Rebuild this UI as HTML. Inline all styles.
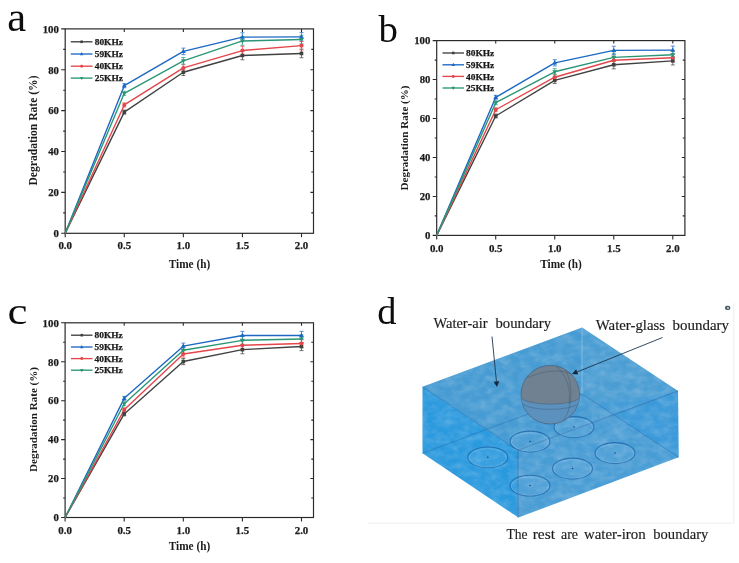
<!DOCTYPE html>
<html><head><meta charset="utf-8"><title>figure</title>
<style>
html,body{margin:0;padding:0;background:#fff;}
body{width:739px;height:563px;overflow:hidden;}
svg{display:block;}
text{font-family:"Liberation Serif",serif;}
.b{font-weight:bold;fill:#1a1a1a;}
</style></head><body>
<svg width="739" height="563" viewBox="0 0 739 563">
<rect width="739" height="563" fill="#fff"/>
<defs>
<filter id="soft" x="-2%" y="-2%" width="104%" height="104%"><feGaussianBlur stdDeviation="0.35"/></filter>
<filter id="tex" x="0" y="0" width="100%" height="100%"><feTurbulence type="fractalNoise" baseFrequency="0.11 0.17" numOctaves="3" seed="7" result="n"/><feColorMatrix in="n" type="matrix" values="0 0 0 0 1  0 0 0 0 1  0 0 0 0 1  1.6 0 0 0 -0.62" result="w"/><feComposite in="w" in2="SourceGraphic" operator="in"/></filter>
<filter id="tex2" x="0" y="0" width="100%" height="100%"><feTurbulence type="fractalNoise" baseFrequency="0.07 0.11" numOctaves="2" seed="23" result="n"/><feColorMatrix in="n" type="matrix" values="0 0 0 0 1  0 0 0 0 1  0 0 0 0 1  0 1.8 0 0 -0.75" result="w"/><feComposite in="w" in2="SourceGraphic" operator="in"/></filter>
<clipPath id="sphclip"><circle cx="550.3" cy="394.7" r="29.3"/></clipPath>
<clipPath id="boxclip"><polygon points="422.5,386.8 582,327.6 678,391 678.6,457.3 518.3,517.6 422.5,453.2"/></clipPath>
</defs>
<g id="panel-a" filter="url(#soft)">
<text transform="translate(7.3 31.2) scale(1.0 1)" font-size="42.5" fill="#111">a</text>
<rect x="65.2" y="28.9" width="248.3" height="204.4" fill="none" stroke="#2a2a2a" stroke-width="1.2"/>
<path d="M65.2 233.3h-4 M65.2 212.86h-2 M313.5 212.86h-2.2 M65.2 192.42h-4 M313.5 192.42h-3.1 M65.2 171.98h-2 M313.5 171.98h-2.2 M65.2 151.54h-4 M313.5 151.54h-3.1 M65.2 131.1h-2 M313.5 131.1h-2.2 M65.2 110.66h-4 M313.5 110.66h-3.1 M65.2 90.22h-2 M313.5 90.22h-2.2 M65.2 69.78h-4 M313.5 69.78h-3.1 M65.2 49.34h-2 M313.5 49.34h-2.2 M65.2 28.9h-4 M65.2 233.3v4.0 M124.28 233.3v4.0 M124.28 28.9v3.0 M183.35 233.3v4.0 M183.35 28.9v3.0 M242.43 233.3v4.0 M242.43 28.9v3.0 M301.5 233.3v4.0 M301.5 28.9v3.0" stroke="#2a2a2a" stroke-width="1.1" fill="none"/>
<text class="b" x="58.9" y="237.1" font-size="11.3" stroke="#1a1a1a" stroke-width="0.25" text-anchor="end" textLength="5.4" lengthAdjust="spacingAndGlyphs">0</text>
<text class="b" x="58.9" y="196.22" font-size="11.3" stroke="#1a1a1a" stroke-width="0.25" text-anchor="end" textLength="10.7" lengthAdjust="spacingAndGlyphs">20</text>
<text class="b" x="58.9" y="155.34" font-size="11.3" stroke="#1a1a1a" stroke-width="0.25" text-anchor="end" textLength="10.7" lengthAdjust="spacingAndGlyphs">40</text>
<text class="b" x="58.9" y="114.46" font-size="11.3" stroke="#1a1a1a" stroke-width="0.25" text-anchor="end" textLength="10.7" lengthAdjust="spacingAndGlyphs">60</text>
<text class="b" x="58.9" y="73.58" font-size="11.3" stroke="#1a1a1a" stroke-width="0.25" text-anchor="end" textLength="10.7" lengthAdjust="spacingAndGlyphs">80</text>
<text class="b" x="58.9" y="32.7" font-size="11.3" stroke="#1a1a1a" stroke-width="0.25" text-anchor="end" textLength="16.2" lengthAdjust="spacingAndGlyphs">100</text>
<text class="b" x="65.2" y="249.4" font-size="11.3" stroke="#1a1a1a" stroke-width="0.25" text-anchor="middle" textLength="13.6" lengthAdjust="spacingAndGlyphs">0.0</text>
<text class="b" x="124.28" y="249.4" font-size="11.3" stroke="#1a1a1a" stroke-width="0.25" text-anchor="middle" textLength="13.6" lengthAdjust="spacingAndGlyphs">0.5</text>
<text class="b" x="183.35" y="249.4" font-size="11.3" stroke="#1a1a1a" stroke-width="0.25" text-anchor="middle" textLength="13.6" lengthAdjust="spacingAndGlyphs">1.0</text>
<text class="b" x="242.43" y="249.4" font-size="11.3" stroke="#1a1a1a" stroke-width="0.25" text-anchor="middle" textLength="13.6" lengthAdjust="spacingAndGlyphs">1.5</text>
<text class="b" x="301.5" y="249.4" font-size="11.3" stroke="#1a1a1a" stroke-width="0.25" text-anchor="middle" textLength="13.6" lengthAdjust="spacingAndGlyphs">2.0</text>
<text class="b" transform="translate(36.6 130.5) rotate(-90)" font-size="11.5" text-anchor="middle" textLength="110" lengthAdjust="spacingAndGlyphs">Degradation Rate (%)</text>
<text class="b" x="189.5" y="268.2" font-size="11.5" text-anchor="middle" textLength="41.5" lengthAdjust="spacingAndGlyphs">Time (h)</text>
<path d="M124.28 110.05V114.13 M122.28 110.05h4 M122.28 114.13h4 M183.35 68.96V75.5 M181.35 68.96h4 M181.35 75.5h4 M242.43 51.18V59.76 M240.43 51.18h4 M240.43 59.76h4 M301.5 49.14V57.72 M299.5 49.14h4 M299.5 57.72h4" stroke="#404240" stroke-width="0.8" fill="none" opacity="0.9"/>
<polyline points="65.2,233.3 124.28,112.09 183.35,72.23 242.43,55.47 301.5,53.43" fill="none" stroke="#404240" stroke-width="1.4" stroke-linejoin="round"/>
<path d="M124.28 83.68V87.77 M122.28 83.68h4 M122.28 87.77h4 M183.35 48.11V54.65 M181.35 48.11h4 M181.35 54.65h4 M242.43 32.78V41.37 M240.43 32.78h4 M240.43 41.37h4 M301.5 32.58V41.16 M299.5 32.58h4 M299.5 41.16h4" stroke="#1c68c2" stroke-width="0.8" fill="none" opacity="0.9"/>
<polyline points="65.2,233.3 124.28,85.72 183.35,51.38 242.43,37.08 301.5,36.87" fill="none" stroke="#1c68c2" stroke-width="1.4" stroke-linejoin="round"/>
<path d="M124.28 102.89V106.98 M122.28 102.89h4 M122.28 106.98h4 M183.35 64.67V71.21 M181.35 64.67h4 M181.35 71.21h4 M242.43 46.27V54.86 M240.43 46.27h4 M240.43 54.86h4 M301.5 41.37V49.95 M299.5 41.37h4 M299.5 49.95h4" stroke="#e4464b" stroke-width="0.8" fill="none" opacity="0.9"/>
<polyline points="65.2,233.3 124.28,104.94 183.35,67.94 242.43,50.57 301.5,45.66" fill="none" stroke="#e4464b" stroke-width="1.4" stroke-linejoin="round"/>
<path d="M124.28 91.24V95.33 M122.28 91.24h4 M122.28 95.33h4 M183.35 57.52V64.06 M181.35 57.52h4 M181.35 64.06h4 M242.43 36.67V45.25 M240.43 36.67h4 M240.43 45.25h4 M301.5 35.24V43.82 M299.5 35.24h4 M299.5 43.82h4" stroke="#2a9676" stroke-width="0.8" fill="none" opacity="0.9"/>
<polyline points="65.2,233.3 124.28,93.29 183.35,60.79 242.43,40.96 301.5,39.53" fill="none" stroke="#2a9676" stroke-width="1.4" stroke-linejoin="round"/>
<!--markers-->
<rect x="122.48" y="110.29" width="3.6" height="3.6" fill="#404240"/><rect x="181.55" y="70.43" width="3.6" height="3.6" fill="#404240"/><rect x="240.62" y="53.67" width="3.6" height="3.6" fill="#404240"/><rect x="299.7" y="51.63" width="3.6" height="3.6" fill="#404240"/>
<polygon points="124.28,83.02 121.88,87.32 126.68,87.32" fill="#1c68c2"/><polygon points="183.35,48.68 180.95,52.98 185.75,52.98" fill="#1c68c2"/><polygon points="242.43,34.38 240.03,38.68 244.83,38.68" fill="#1c68c2"/><polygon points="301.5,34.17 299.1,38.47 303.9,38.47" fill="#1c68c2"/>
<circle cx="124.28" cy="104.94" r="2.05" fill="#e4464b"/><circle cx="183.35" cy="67.94" r="2.05" fill="#e4464b"/><circle cx="242.43" cy="50.57" r="2.05" fill="#e4464b"/><circle cx="301.5" cy="45.66" r="2.05" fill="#e4464b"/>
<polygon points="124.28,95.99 121.88,91.69 126.68,91.69" fill="#2a9676"/><polygon points="183.35,63.49 180.95,59.19 185.75,59.19" fill="#2a9676"/><polygon points="242.43,43.66 240.03,39.36 244.83,39.36" fill="#2a9676"/><polygon points="301.5,42.23 299.1,37.93 303.9,37.93" fill="#2a9676"/>
<path d="M70.8 41.8H92.5" stroke="#404240" stroke-width="1.35"/><rect x="80.35" y="40.5" width="2.59" height="2.59" fill="#404240"/><text class="b" x="94.7" y="44.9" font-size="8.9" stroke="#1a1a1a" stroke-width="0.25" textLength="28.2" lengthAdjust="spacingAndGlyphs">80KHz</text>
<path d="M70.8 54H92.5" stroke="#1c68c2" stroke-width="1.35"/><polygon points="81.65,52.06 79.92,55.15 83.38,55.15" fill="#1c68c2"/><text class="b" x="94.7" y="57.1" font-size="8.9" stroke="#1a1a1a" stroke-width="0.25" textLength="28.2" lengthAdjust="spacingAndGlyphs">59KHz</text>
<path d="M70.8 66.2H92.5" stroke="#e4464b" stroke-width="1.35"/><circle cx="81.65" cy="66.2" r="1.48" fill="#e4464b"/><text class="b" x="94.7" y="69.3" font-size="8.9" stroke="#1a1a1a" stroke-width="0.25" textLength="28.2" lengthAdjust="spacingAndGlyphs">40KHz</text>
<path d="M70.8 78.1H92.5" stroke="#2a9676" stroke-width="1.35"/><polygon points="81.65,80.04 79.92,76.95 83.38,76.95" fill="#2a9676"/><text class="b" x="94.7" y="81.2" font-size="8.9" stroke="#1a1a1a" stroke-width="0.25" textLength="28.2" lengthAdjust="spacingAndGlyphs">25KHz</text>
</g>
<g id="panel-b" filter="url(#soft)">
<text transform="translate(378.5 42) scale(1.0 1)" font-size="38.8" fill="#111">b</text>
<rect x="436.7" y="40.6" width="248.2" height="194.8" fill="none" stroke="#2a2a2a" stroke-width="1.2"/>
<path d="M436.7 235.4h-4 M436.7 215.92h-2 M684.9 215.92h-2.2 M436.7 196.44h-4 M684.9 196.44h-3.1 M436.7 176.96h-2 M684.9 176.96h-2.2 M436.7 157.48h-4 M684.9 157.48h-3.1 M436.7 138h-2 M684.9 138h-2.2 M436.7 118.52h-4 M684.9 118.52h-3.1 M436.7 99.04h-2 M684.9 99.04h-2.2 M436.7 79.56h-4 M684.9 79.56h-3.1 M436.7 60.08h-2 M684.9 60.08h-2.2 M436.7 40.6h-4 M436.7 235.4v4.0 M495.72 235.4v4.0 M495.72 40.6v3.0 M554.75 235.4v4.0 M554.75 40.6v3.0 M613.77 235.4v4.0 M613.77 40.6v3.0 M672.8 235.4v4.0 M672.8 40.6v3.0" stroke="#2a2a2a" stroke-width="1.1" fill="none"/>
<text class="b" x="430.4" y="239.2" font-size="11.3" stroke="#1a1a1a" stroke-width="0.25" text-anchor="end" textLength="5.4" lengthAdjust="spacingAndGlyphs">0</text>
<text class="b" x="430.4" y="200.24" font-size="11.3" stroke="#1a1a1a" stroke-width="0.25" text-anchor="end" textLength="10.7" lengthAdjust="spacingAndGlyphs">20</text>
<text class="b" x="430.4" y="161.28" font-size="11.3" stroke="#1a1a1a" stroke-width="0.25" text-anchor="end" textLength="10.7" lengthAdjust="spacingAndGlyphs">40</text>
<text class="b" x="430.4" y="122.32" font-size="11.3" stroke="#1a1a1a" stroke-width="0.25" text-anchor="end" textLength="10.7" lengthAdjust="spacingAndGlyphs">60</text>
<text class="b" x="430.4" y="83.36" font-size="11.3" stroke="#1a1a1a" stroke-width="0.25" text-anchor="end" textLength="10.7" lengthAdjust="spacingAndGlyphs">80</text>
<text class="b" x="430.4" y="44.4" font-size="11.3" stroke="#1a1a1a" stroke-width="0.25" text-anchor="end" textLength="16.2" lengthAdjust="spacingAndGlyphs">100</text>
<text class="b" x="436.7" y="251.5" font-size="11.3" stroke="#1a1a1a" stroke-width="0.25" text-anchor="middle" textLength="13.6" lengthAdjust="spacingAndGlyphs">0.0</text>
<text class="b" x="495.72" y="251.5" font-size="11.3" stroke="#1a1a1a" stroke-width="0.25" text-anchor="middle" textLength="13.6" lengthAdjust="spacingAndGlyphs">0.5</text>
<text class="b" x="554.75" y="251.5" font-size="11.3" stroke="#1a1a1a" stroke-width="0.25" text-anchor="middle" textLength="13.6" lengthAdjust="spacingAndGlyphs">1.0</text>
<text class="b" x="613.77" y="251.5" font-size="11.3" stroke="#1a1a1a" stroke-width="0.25" text-anchor="middle" textLength="13.6" lengthAdjust="spacingAndGlyphs">1.5</text>
<text class="b" x="672.8" y="251.5" font-size="11.3" stroke="#1a1a1a" stroke-width="0.25" text-anchor="middle" textLength="13.6" lengthAdjust="spacingAndGlyphs">2.0</text>
<text class="b" transform="translate(407.6 138) rotate(-90)" font-size="11" text-anchor="middle" textLength="105" lengthAdjust="spacingAndGlyphs">Degradation Rate (%)</text>
<text class="b" x="561" y="268.2" font-size="11.5" text-anchor="middle" textLength="41.5" lengthAdjust="spacingAndGlyphs">Time (h)</text>
<path d="M495.72 114.04V117.94 M493.72 114.04h4 M493.72 117.94h4 M554.75 77.22V83.46 M552.75 77.22h4 M552.75 83.46h4 M613.77 60.66V68.85 M611.77 60.66h4 M611.77 68.85h4 M672.8 56.77V64.95 M670.8 56.77h4 M670.8 64.95h4" stroke="#404240" stroke-width="0.8" fill="none" opacity="0.9"/>
<polyline points="436.7,235.4 495.72,115.99 554.75,80.34 613.77,64.76 672.8,60.86" fill="none" stroke="#404240" stroke-width="1.4" stroke-linejoin="round"/>
<path d="M495.72 95.34V99.23 M493.72 95.34h4 M493.72 99.23h4 M554.75 59.69V65.92 M552.75 59.69h4 M552.75 65.92h4 M613.77 46.25V54.43 M611.77 46.25h4 M611.77 54.43h4 M672.8 46.05V54.24 M670.8 46.05h4 M670.8 54.24h4" stroke="#1c68c2" stroke-width="0.8" fill="none" opacity="0.9"/>
<polyline points="436.7,235.4 495.72,97.29 554.75,62.81 613.77,50.34 672.8,50.15" fill="none" stroke="#1c68c2" stroke-width="1.4" stroke-linejoin="round"/>
<path d="M495.72 107.81V111.7 M493.72 107.81h4 M493.72 111.7h4 M554.75 74.11V80.34 M552.75 74.11h4 M552.75 80.34h4 M613.77 56.18V64.37 M611.77 56.18h4 M611.77 64.37h4 M672.8 53.65V61.83 M670.8 53.65h4 M670.8 61.83h4" stroke="#e4464b" stroke-width="0.8" fill="none" opacity="0.9"/>
<polyline points="436.7,235.4 495.72,109.75 554.75,77.22 613.77,60.27 672.8,57.74" fill="none" stroke="#e4464b" stroke-width="1.4" stroke-linejoin="round"/>
<path d="M495.72 100.79V104.69 M493.72 100.79h4 M493.72 104.69h4 M554.75 68.65V74.88 M552.75 68.65h4 M552.75 74.88h4 M613.77 53.26V61.44 M611.77 53.26h4 M611.77 61.44h4 M672.8 50.73V58.91 M670.8 50.73h4 M670.8 58.91h4" stroke="#2a9676" stroke-width="0.8" fill="none" opacity="0.9"/>
<polyline points="436.7,235.4 495.72,102.74 554.75,71.77 613.77,57.35 672.8,54.82" fill="none" stroke="#2a9676" stroke-width="1.4" stroke-linejoin="round"/>
<!--markers-->
<rect x="493.92" y="114.19" width="3.6" height="3.6" fill="#404240"/><rect x="552.95" y="78.54" width="3.6" height="3.6" fill="#404240"/><rect x="611.98" y="62.96" width="3.6" height="3.6" fill="#404240"/><rect x="671" y="59.06" width="3.6" height="3.6" fill="#404240"/>
<polygon points="495.72,94.59 493.32,98.89 498.12,98.89" fill="#1c68c2"/><polygon points="554.75,60.11 552.35,64.41 557.15,64.41" fill="#1c68c2"/><polygon points="613.77,47.64 611.38,51.94 616.17,51.94" fill="#1c68c2"/><polygon points="672.8,47.45 670.4,51.75 675.2,51.75" fill="#1c68c2"/>
<circle cx="495.72" cy="109.75" r="2.05" fill="#e4464b"/><circle cx="554.75" cy="77.22" r="2.05" fill="#e4464b"/><circle cx="613.77" cy="60.27" r="2.05" fill="#e4464b"/><circle cx="672.8" cy="57.74" r="2.05" fill="#e4464b"/>
<polygon points="495.72,105.44 493.32,101.14 498.12,101.14" fill="#2a9676"/><polygon points="554.75,74.47 552.35,70.17 557.15,70.17" fill="#2a9676"/><polygon points="613.77,60.05 611.38,55.75 616.17,55.75" fill="#2a9676"/><polygon points="672.8,57.52 670.4,53.22 675.2,53.22" fill="#2a9676"/>
<path d="M442.5 53H464" stroke="#404240" stroke-width="1.35"/><rect x="451.95" y="51.7" width="2.59" height="2.59" fill="#404240"/><text class="b" x="466" y="56.1" font-size="8.9" stroke="#1a1a1a" stroke-width="0.25" textLength="28.2" lengthAdjust="spacingAndGlyphs">80KHz</text>
<path d="M442.5 64.8H464" stroke="#1c68c2" stroke-width="1.35"/><polygon points="453.25,62.86 451.52,65.95 454.98,65.95" fill="#1c68c2"/><text class="b" x="466" y="67.9" font-size="8.9" stroke="#1a1a1a" stroke-width="0.25" textLength="28.2" lengthAdjust="spacingAndGlyphs">59KHz</text>
<path d="M442.5 76.4H464" stroke="#e4464b" stroke-width="1.35"/><circle cx="453.25" cy="76.4" r="1.48" fill="#e4464b"/><text class="b" x="466" y="79.5" font-size="8.9" stroke="#1a1a1a" stroke-width="0.25" textLength="28.2" lengthAdjust="spacingAndGlyphs">40KHz</text>
<path d="M442.5 88H464" stroke="#2a9676" stroke-width="1.35"/><polygon points="453.25,89.94 451.52,86.85 454.98,86.85" fill="#2a9676"/><text class="b" x="466" y="91.1" font-size="8.9" stroke="#1a1a1a" stroke-width="0.25" textLength="28.2" lengthAdjust="spacingAndGlyphs">25KHz</text>
</g>
<g id="panel-c" filter="url(#soft)">
<text transform="translate(7.5 324) scale(1.17 1)" font-size="38.5" fill="#111">c</text>
<rect x="65.1" y="322.8" width="248.4" height="194.7" fill="none" stroke="#2a2a2a" stroke-width="1.2"/>
<path d="M65.1 517.5h-4 M65.1 498.03h-2 M313.5 498.03h-2.2 M65.1 478.56h-4 M313.5 478.56h-3.1 M65.1 459.09h-2 M313.5 459.09h-2.2 M65.1 439.62h-4 M313.5 439.62h-3.1 M65.1 420.15h-2 M313.5 420.15h-2.2 M65.1 400.68h-4 M313.5 400.68h-3.1 M65.1 381.21h-2 M313.5 381.21h-2.2 M65.1 361.74h-4 M313.5 361.74h-3.1 M65.1 342.27h-2 M313.5 342.27h-2.2 M65.1 322.8h-4 M65.1 517.5v4.0 M124.2 517.5v4.0 M124.2 322.8v3.0 M183.3 517.5v4.0 M183.3 322.8v3.0 M242.4 517.5v4.0 M242.4 322.8v3.0 M301.5 517.5v4.0 M301.5 322.8v3.0" stroke="#2a2a2a" stroke-width="1.1" fill="none"/>
<text class="b" x="58.8" y="521.3" font-size="11.3" stroke="#1a1a1a" stroke-width="0.25" text-anchor="end" textLength="5.4" lengthAdjust="spacingAndGlyphs">0</text>
<text class="b" x="58.8" y="482.36" font-size="11.3" stroke="#1a1a1a" stroke-width="0.25" text-anchor="end" textLength="10.7" lengthAdjust="spacingAndGlyphs">20</text>
<text class="b" x="58.8" y="443.42" font-size="11.3" stroke="#1a1a1a" stroke-width="0.25" text-anchor="end" textLength="10.7" lengthAdjust="spacingAndGlyphs">40</text>
<text class="b" x="58.8" y="404.48" font-size="11.3" stroke="#1a1a1a" stroke-width="0.25" text-anchor="end" textLength="10.7" lengthAdjust="spacingAndGlyphs">60</text>
<text class="b" x="58.8" y="365.54" font-size="11.3" stroke="#1a1a1a" stroke-width="0.25" text-anchor="end" textLength="10.7" lengthAdjust="spacingAndGlyphs">80</text>
<text class="b" x="58.8" y="326.6" font-size="11.3" stroke="#1a1a1a" stroke-width="0.25" text-anchor="end" textLength="16.2" lengthAdjust="spacingAndGlyphs">100</text>
<text class="b" x="65.1" y="533.6" font-size="11.3" stroke="#1a1a1a" stroke-width="0.25" text-anchor="middle" textLength="13.6" lengthAdjust="spacingAndGlyphs">0.0</text>
<text class="b" x="124.2" y="533.6" font-size="11.3" stroke="#1a1a1a" stroke-width="0.25" text-anchor="middle" textLength="13.6" lengthAdjust="spacingAndGlyphs">0.5</text>
<text class="b" x="183.3" y="533.6" font-size="11.3" stroke="#1a1a1a" stroke-width="0.25" text-anchor="middle" textLength="13.6" lengthAdjust="spacingAndGlyphs">1.0</text>
<text class="b" x="242.4" y="533.6" font-size="11.3" stroke="#1a1a1a" stroke-width="0.25" text-anchor="middle" textLength="13.6" lengthAdjust="spacingAndGlyphs">1.5</text>
<text class="b" x="301.5" y="533.6" font-size="11.3" stroke="#1a1a1a" stroke-width="0.25" text-anchor="middle" textLength="13.6" lengthAdjust="spacingAndGlyphs">2.0</text>
<text class="b" transform="translate(36.6 419.5) rotate(-90)" font-size="11" text-anchor="middle" textLength="105" lengthAdjust="spacingAndGlyphs">Degradation Rate (%)</text>
<text class="b" x="189.5" y="550.2" font-size="11.5" text-anchor="middle" textLength="41.5" lengthAdjust="spacingAndGlyphs">Time (h)</text>
<path d="M124.2 411.97V415.87 M122.2 411.97h4 M122.2 415.87h4 M183.3 358.43V364.66 M181.3 358.43h4 M181.3 364.66h4 M242.4 345.58V353.76 M240.4 345.58h4 M240.4 353.76h4 M301.5 342.46V350.64 M299.5 342.46h4 M299.5 350.64h4" stroke="#404240" stroke-width="0.8" fill="none" opacity="0.9"/>
<polyline points="65.1,517.5 124.2,413.92 183.3,361.55 242.4,349.67 301.5,346.55" fill="none" stroke="#404240" stroke-width="1.4" stroke-linejoin="round"/>
<path d="M124.2 396.4V400.29 M122.2 396.4h4 M122.2 400.29h4 M183.3 343.05V349.28 M181.3 343.05h4 M181.3 349.28h4 M242.4 331.37V339.54 M240.4 331.37h4 M240.4 339.54h4 M301.5 331.37V339.54 M299.5 331.37h4 M299.5 339.54h4" stroke="#1c68c2" stroke-width="0.8" fill="none" opacity="0.9"/>
<polyline points="65.1,517.5 124.2,398.34 183.3,346.16 242.4,335.46 301.5,335.46" fill="none" stroke="#1c68c2" stroke-width="1.4" stroke-linejoin="round"/>
<path d="M124.2 407.88V411.78 M122.2 407.88h4 M122.2 411.78h4 M183.3 350.84V357.07 M181.3 350.84h4 M181.3 357.07h4 M242.4 341.1V349.28 M240.4 341.1h4 M240.4 349.28h4 M301.5 339.35V347.53 M299.5 339.35h4 M299.5 347.53h4" stroke="#e4464b" stroke-width="0.8" fill="none" opacity="0.9"/>
<polyline points="65.1,517.5 124.2,409.83 183.3,353.95 242.4,345.19 301.5,343.44" fill="none" stroke="#e4464b" stroke-width="1.4" stroke-linejoin="round"/>
<path d="M124.2 401.85V405.74 M122.2 401.85h4 M122.2 405.74h4 M183.3 347.14V353.37 M181.3 347.14h4 M181.3 353.37h4 M242.4 336.23V344.41 M240.4 336.23h4 M240.4 344.41h4 M301.5 334.87V343.05 M299.5 334.87h4 M299.5 343.05h4" stroke="#2a9676" stroke-width="0.8" fill="none" opacity="0.9"/>
<polyline points="65.1,517.5 124.2,403.8 183.3,350.25 242.4,340.32 301.5,338.96" fill="none" stroke="#2a9676" stroke-width="1.4" stroke-linejoin="round"/>
<!--markers-->
<rect x="122.4" y="412.12" width="3.6" height="3.6" fill="#404240"/><rect x="181.5" y="359.75" width="3.6" height="3.6" fill="#404240"/><rect x="240.6" y="347.87" width="3.6" height="3.6" fill="#404240"/><rect x="299.7" y="344.75" width="3.6" height="3.6" fill="#404240"/>
<polygon points="124.2,395.64 121.8,399.94 126.6,399.94" fill="#1c68c2"/><polygon points="183.3,343.46 180.9,347.76 185.7,347.76" fill="#1c68c2"/><polygon points="242.4,332.76 240,337.06 244.8,337.06" fill="#1c68c2"/><polygon points="301.5,332.76 299.1,337.06 303.9,337.06" fill="#1c68c2"/>
<circle cx="124.2" cy="409.83" r="2.05" fill="#e4464b"/><circle cx="183.3" cy="353.95" r="2.05" fill="#e4464b"/><circle cx="242.4" cy="345.19" r="2.05" fill="#e4464b"/><circle cx="301.5" cy="343.44" r="2.05" fill="#e4464b"/>
<polygon points="124.2,406.5 121.8,402.2 126.6,402.2" fill="#2a9676"/><polygon points="183.3,352.95 180.9,348.65 185.7,348.65" fill="#2a9676"/><polygon points="242.4,343.02 240,338.72 244.8,338.72" fill="#2a9676"/><polygon points="301.5,341.66 299.1,337.36 303.9,337.36" fill="#2a9676"/>
<path d="M71 335.2H92.5" stroke="#404240" stroke-width="1.35"/><rect x="80.45" y="333.9" width="2.59" height="2.59" fill="#404240"/><text class="b" x="94.5" y="338.3" font-size="8.9" stroke="#1a1a1a" stroke-width="0.25" textLength="28.2" lengthAdjust="spacingAndGlyphs">80KHz</text>
<path d="M71 347H92.5" stroke="#1c68c2" stroke-width="1.35"/><polygon points="81.75,345.06 80.02,348.15 83.48,348.15" fill="#1c68c2"/><text class="b" x="94.5" y="350.1" font-size="8.9" stroke="#1a1a1a" stroke-width="0.25" textLength="28.2" lengthAdjust="spacingAndGlyphs">59KHz</text>
<path d="M71 358.6H92.5" stroke="#e4464b" stroke-width="1.35"/><circle cx="81.75" cy="358.6" r="1.48" fill="#e4464b"/><text class="b" x="94.5" y="361.7" font-size="8.9" stroke="#1a1a1a" stroke-width="0.25" textLength="28.2" lengthAdjust="spacingAndGlyphs">40KHz</text>
<path d="M71 370.2H92.5" stroke="#2a9676" stroke-width="1.35"/><polygon points="81.75,372.14 80.02,369.05 83.48,369.05" fill="#2a9676"/><text class="b" x="94.5" y="373.3" font-size="8.9" stroke="#1a1a1a" stroke-width="0.25" textLength="28.2" lengthAdjust="spacingAndGlyphs">25KHz</text>
</g>
<g id="panel-d" filter="url(#soft)">
<text x="377.2" y="324.4" font-size="38.4" fill="#111">d</text>
<path d="M733.8 303V523.2H368" stroke="#eceef0" stroke-width="1" fill="none"/>
<rect x="725" y="305.7" width="5.3" height="4.4" rx="2" fill="#465a64"/><rect x="727.2" y="306.8" width="1.5" height="2.2" fill="#cfd9de"/>
<polygon points="422.5,386.8 582,327.6 678,391 518,450.2" fill="#469bd3"/>
<polygon points="422.5,386.8 518,450.2 518.3,517.6 422.5,453.2" fill="#2c9ade"/>
<polygon points="518,450.2 678,391 678.6,457.3 518.3,517.6" fill="#4a9dd5"/>
<polygon points="596,403.3 678,391 678.6,457.3" fill="#3096dc" opacity="0.55"/>
<polygon points="582,327.6 678,391 596,421.5 582,394" fill="#5aa2d8" opacity="0.35"/>
<g clip-path="url(#boxclip)"><rect x="420" y="325" width="262" height="195" fill="#fff" filter="url(#tex)" opacity="0.17"/><rect x="420" y="325" width="262" height="195" fill="#0b4f96" filter="url(#tex2)" opacity="0.16"/></g>
<path d="M422.5 453.2L582 394L678.6 457.3" stroke="#1d68ad" stroke-width="0.8" fill="none" opacity="0.55"/>
<path d="M582 327.6V394" stroke="#a8d2f2" stroke-width="2" fill="none" opacity="0.28"/>
<path d="M422.5 386.8L518 450.2L678 391 M518 450.2L518.3 517.6" stroke="#1f64a6" stroke-width="0.8" fill="none" opacity="0.75"/>
<ellipse cx="487.8" cy="457.3" rx="20" ry="10.4" fill="#a9d4f2" fill-opacity="0.09" stroke="#1a60a4" stroke-width="1.05" opacity="0.72"/><ellipse cx="487.8" cy="457.9" rx="18.6" ry="9.3" fill="none" stroke="#b5dcf6" stroke-width="0.7" opacity="0.3"/><circle cx="487.8" cy="457.3" r="0.75" fill="#163d6a"/>
<ellipse cx="530" cy="441.5" rx="20" ry="10.4" fill="#a9d4f2" fill-opacity="0.09" stroke="#1a60a4" stroke-width="1.05" opacity="0.72"/><ellipse cx="530" cy="442.1" rx="18.6" ry="9.3" fill="none" stroke="#b5dcf6" stroke-width="0.7" opacity="0.3"/><circle cx="530" cy="441.5" r="0.75" fill="#163d6a"/>
<ellipse cx="574" cy="427" rx="20" ry="10.4" fill="#a9d4f2" fill-opacity="0.09" stroke="#1a60a4" stroke-width="1.05" opacity="0.72"/><ellipse cx="574" cy="427.6" rx="18.6" ry="9.3" fill="none" stroke="#b5dcf6" stroke-width="0.7" opacity="0.3"/><circle cx="574" cy="427" r="0.75" fill="#163d6a"/>
<ellipse cx="530" cy="485.6" rx="20" ry="10.4" fill="#a9d4f2" fill-opacity="0.09" stroke="#1a60a4" stroke-width="1.05" opacity="0.72"/><ellipse cx="530" cy="486.2" rx="18.6" ry="9.3" fill="none" stroke="#b5dcf6" stroke-width="0.7" opacity="0.3"/><circle cx="530" cy="485.6" r="0.75" fill="#163d6a"/>
<ellipse cx="572.5" cy="468.5" rx="20" ry="10.4" fill="#a9d4f2" fill-opacity="0.09" stroke="#1a60a4" stroke-width="1.05" opacity="0.72"/><ellipse cx="572.5" cy="469.1" rx="18.6" ry="9.3" fill="none" stroke="#b5dcf6" stroke-width="0.7" opacity="0.3"/><circle cx="572.5" cy="468.5" r="0.75" fill="#163d6a"/>
<ellipse cx="615" cy="453" rx="20" ry="10.4" fill="#a9d4f2" fill-opacity="0.09" stroke="#1a60a4" stroke-width="1.05" opacity="0.72"/><ellipse cx="615" cy="453.6" rx="18.6" ry="9.3" fill="none" stroke="#b5dcf6" stroke-width="0.7" opacity="0.3"/><circle cx="615" cy="453" r="0.75" fill="#163d6a"/>
<circle cx="550.3" cy="394.7" r="29.3" fill="#727f8c" fill-opacity="0.93" stroke="#4a6079" stroke-width="0.9" stroke-opacity="0.8"/>
<path d="M521.2 397.5 A29.3 7.5 0 0 0 579.4 397.5 A29.3 29.3 0 0 1 521.2 397.5Z" fill="#5495cc" fill-opacity="0.75"/>
<path clip-path="url(#sphclip)" d="M521.2 397.5A29.3 7.5 0 0 0 579.4 397.5 M523 404A28 7 0 0 0 577.5 404 M543 366.5A16 29.3 0 0 1 563 421 M527 378A34 16 -15 0 1 572 374.5 M556 366A40 40 0 0 1 569 404" stroke="#3b4e63" stroke-width="0.6" fill="none" opacity="0.6"/>
<path d="M492 336.5L496.45 381.43" stroke="#1d3550" stroke-width="0.9"/><polygon points="497,387 493.66,381.7 499.23,381.15" fill="#14263a"/>
<path d="M662.5 337.5L577.19 371.91" stroke="#1d3550" stroke-width="0.9"/><polygon points="572,374 576.15,369.31 578.24,374.5" fill="#14263a"/>
<text x="433.5" y="328.2" font-size="13.7" fill="#1c1c1c" stroke="#1c1c1c" stroke-width="0.15" textLength="54" lengthAdjust="spacingAndGlyphs">Water-air</text><text x="495.5" y="328.2" font-size="13.7" fill="#1c1c1c" stroke="#1c1c1c" stroke-width="0.15" textLength="55.5" lengthAdjust="spacingAndGlyphs">boundary</text>
<text x="595.8" y="329.6" font-size="13.9" fill="#1c1c1c" stroke="#1c1c1c" stroke-width="0.15" textLength="69.3" lengthAdjust="spacingAndGlyphs">Water-glass</text><text x="672.6" y="329.6" font-size="13.9" fill="#1c1c1c" stroke="#1c1c1c" stroke-width="0.15" textLength="56.4" lengthAdjust="spacingAndGlyphs">boundary</text>
<text x="506.5" y="538.5" font-size="14.2" fill="#1c1c1c" stroke="#1c1c1c" stroke-width="0.15" textLength="21.1" lengthAdjust="spacingAndGlyphs">The</text><text x="532.7" y="538.5" font-size="14.2" fill="#1c1c1c" stroke="#1c1c1c" stroke-width="0.15" textLength="22.3" lengthAdjust="spacingAndGlyphs">rest</text><text x="561" y="538.5" font-size="14.2" fill="#1c1c1c" stroke="#1c1c1c" stroke-width="0.15" textLength="17" lengthAdjust="spacingAndGlyphs">are</text><text x="583.9" y="538.5" font-size="14.2" fill="#1c1c1c" stroke="#1c1c1c" stroke-width="0.15" textLength="61.9" lengthAdjust="spacingAndGlyphs">water-iron</text><text x="653.3" y="538.5" font-size="14.2" fill="#1c1c1c" stroke="#1c1c1c" stroke-width="0.15" textLength="55" lengthAdjust="spacingAndGlyphs">boundary</text>
</g>
</svg>
</body></html>
